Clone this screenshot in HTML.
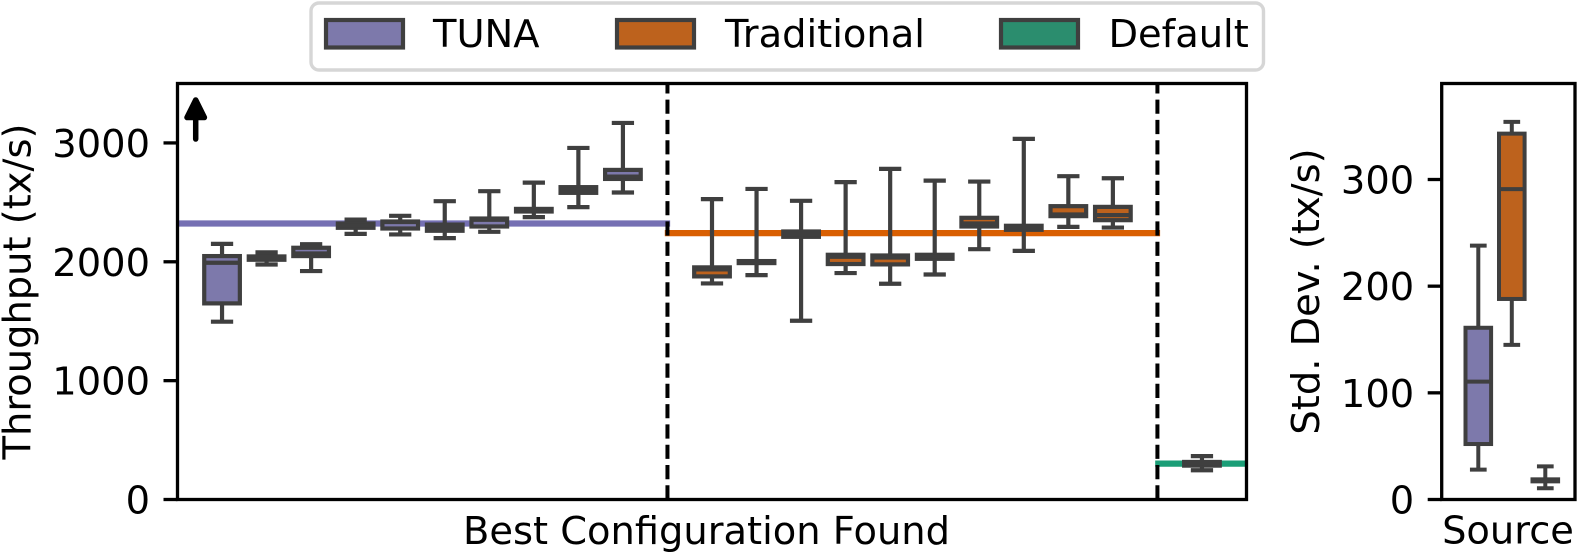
<!DOCTYPE html>
<html lang="en">
<head>
<meta charset="utf-8">
<title>Throughput and standard deviation of best configurations</title>
<style>
  html, body { margin: 0; padding: 0; background: #ffffff; }
  svg { display: block; }
  text { font-family: "DejaVu Sans", "Liberation Sans", sans-serif; font-size: 38.4px; fill: #000000; }
</style>
</head>
<body>
<svg id="chart" xmlns="http://www.w3.org/2000/svg" width="1578" height="553" viewBox="0 0 1578 553">
  <rect x="0" y="0" width="1578" height="553" fill="#ffffff"/>

  <g id="main-marks"></g>
  <g id="side-marks"></g>

  <path d="M195.7 139 V117.5 M195.7 100 L187 117.5 H204.4 Z" fill="#000000" stroke="#000000" stroke-width="5.5" stroke-linecap="round" stroke-linejoin="round"/>

  <text transform="translate(30.5 291.5) rotate(-90)" text-anchor="middle">Throughput (tx/s)</text>
  <text x="706.5" y="544" text-anchor="middle">Best Configuration Found</text>
  <text transform="translate(1319 291.5) rotate(-90)" text-anchor="middle">Std. Dev. (tx/s)</text>
  <text x="1508" y="543.5" text-anchor="middle">Source</text>

  <g>
    <rect x="311" y="3" width="952.5" height="67" rx="8" ry="8" fill="#ffffff" stroke="#d6d6d6" stroke-width="3.4"/>
    <g>
      <rect x="326" y="20" width="77" height="27.5" fill="#7d79ab" stroke="#3f3f3f" stroke-width="4.2"/>
      <text x="433" y="47">TUNA</text>
    </g>
    <g>
      <rect x="617" y="20" width="77" height="27.5" fill="#bd621d" stroke="#3f3f3f" stroke-width="4.2"/>
      <text x="725" y="47">Traditional</text>
    </g>
    <g>
      <rect x="1001" y="20" width="77" height="27.5" fill="#2b8d6e" stroke="#3f3f3f" stroke-width="4.2"/>
      <text x="1108.5" y="47">Default</text>
    </g>
  </g>
</svg>

<script>
// ---------- Main plot data (tx/s) ----------
const mainPositions = [0, 1, 2, 3, 4, 5, 6, 7, 8, 9, 11, 12, 13, 14, 15, 16, 17, 18, 19, 20, 22];
const mainSources = ['TUNA', 'TUNA', 'TUNA', 'TUNA', 'TUNA', 'TUNA', 'TUNA', 'TUNA', 'TUNA', 'TUNA',
  'Traditional', 'Traditional', 'Traditional', 'Traditional', 'Traditional', 'Traditional', 'Traditional', 'Traditional', 'Traditional', 'Traditional',
  'Default'];
const mainWhiskerHigh = [2151, 2079, 2148, 2355, 2387, 2510, 2594, 2666, 2958, 3168,
  2527, 2613, 2513, 2670, 2782, 2683, 2675, 3034, 2720, 2703, 365];
const mainQ3 = [2048, 2045, 2118, 2322, 2339, 2313, 2364, 2445, 2628, 2773,
  1953, 2006, 2255, 2059, 2053, 2059, 2370, 2303, 2468, 2462, 316];
const mainMedian = [1992, 2031, 2070, 2305, 2334, 2283, 2353, 2434, 2605, 2717,
  1936, 1997, 2233, 2042, 2036, 2042, 2322, 2294, 2398, 2393, 302];
const mainQ1 = [1650, 2017, 2048, 2286, 2280, 2261, 2297, 2423, 2580, 2697,
  1877, 1989, 2210, 1981, 1978, 2025, 2297, 2269, 2384, 2350, 285];
const mainWhiskerLow = [1496, 1977, 1922, 2235, 2230, 2199, 2252, 2376, 2460, 2583,
  1818, 1888, 1504, 1905, 1815, 1893, 2106, 2092, 2294, 2288, 246];
const mainTickLabels = [0, 1000, 2000, 3000];
const separators = [10, 21];
const referenceSources = ['TUNA', 'Traditional', 'Default'];
const referenceValues = [2322, 2241, 302];
const referenceStarts = [-1, 9.94, 20.95];
const referenceEnds = [10.06, 21.06, 23];

// ---------- Side plot data (tx/s) ----------
const sideSources = ['TUNA', 'Traditional', 'Default'];
const sideWhiskerHigh = [238, 354, 31];
const sideQ3 = [161, 343, 18.9];
const sideMedian = [110.5, 291, 18];
const sideQ1 = [52, 188, 17];
const sideWhiskerLow = [28, 145, 10.6];
const sideTickLabels = [0, 100, 200, 300];

// ---------- Palette ----------
const boxFill = { TUNA: '#7d79ab', Traditional: '#bd621d', Default: '#2b8d6e' };
const lineColor = { TUNA: '#7570b3', Traditional: '#d95f02', Default: '#1b9e77' };
const DARK = '#3f3f3f';
const NS = 'http://www.w3.org/2000/svg';

// ---------- Axis functions ----------
const mainLeft = 177.5, mainRight = 1246.5, plotTop = 83.5, plotBottom = 499.5;
const sideLeft = 1441.7, sideRight = 1575;
function mainX(v) { return mainLeft + (v + 1) * (mainRight - mainLeft) / 24; }
function mainY(v) { return plotBottom - v * (plotBottom - plotTop) / 3500; }
function sideX(i) { return 1478.3 + i * 33.5; }
function sideY(v) { return plotBottom - v * (plotBottom - plotTop) / 390; }
function slug(s) { return String(s).toLowerCase().replace(/[^a-z0-9]+/g, '-'); }

function make(parent, tag, attrs) {
  const el = document.createElementNS(NS, tag);
  Object.keys(attrs).forEach(function (k) { el.setAttribute(k, attrs[k]); });
  parent.appendChild(el);
  return el;
}

function drawBox(parent, name, cx, yScale, boxW, capW, hi, q3, med, q1, lo, fill, sw) {
  const g = make(parent, 'g', {});
  
  

  const upper = make(g, 'line', { x1: cx, x2: cx, y1: yScale(q3), y2: yScale(hi), stroke: DARK, 'stroke-width': sw });
  
  

  const lower = make(g, 'line', { x1: cx, x2: cx, y1: yScale(q1), y2: yScale(lo), stroke: DARK, 'stroke-width': sw });
  
  

  const capHi = make(g, 'line', { x1: cx - capW / 2, x2: cx + capW / 2, y1: yScale(hi), y2: yScale(hi), stroke: DARK, 'stroke-width': sw });
  
  

  const capLo = make(g, 'line', { x1: cx - capW / 2, x2: cx + capW / 2, y1: yScale(lo), y2: yScale(lo), stroke: DARK, 'stroke-width': sw });
  
  

  const body = make(g, 'rect', { x: cx - boxW / 2, y: yScale(q3), width: boxW, height: yScale(q1) - yScale(q3), fill: fill, stroke: DARK, 'stroke-width': sw });
  
  

  const medLine = make(g, 'line', { x1: cx - boxW / 2, x2: cx + boxW / 2, y1: yScale(med), y2: yScale(med), stroke: DARK, 'stroke-width': sw });
  
  
}

function drawFrame(parent, prefix, left, right, yScale, ticks) {
  const frame = make(parent, 'rect', { x: left, y: plotTop, width: right - left, height: plotBottom - plotTop, fill: 'none', stroke: '#000000', 'stroke-width': 3.3 });
  
  

  ticks.forEach(function (t) {
    const y = yScale(t);
    const mark = make(parent, 'line', { x1: left - 14, x2: left, y1: y, y2: y, stroke: '#000000', 'stroke-width': 3.3 });
    
    

    const label = make(parent, 'text', { x: left - 27.5, y: y + 14, 'text-anchor': 'end' });
    label.textContent = String(t);
    
    
  });
}

// ---------- Main plot ----------
const mainG = document.getElementById('main-marks');

referenceValues.forEach(function (v, i) {
  const ref = make(mainG, 'line', { x1: mainX(referenceStarts[i]), x2: mainX(referenceEnds[i]), y1: mainY(v), y2: mainY(v), stroke: lineColor[referenceSources[i]], 'stroke-width': 6.25 });
  
  
});

mainPositions.forEach(function (p, i) {
  const step = (mainRight - mainLeft) / 24;
  drawBox(mainG, 'box-' + slug(mainSources[i]) + '-' + p, mainX(p), mainY, step * 0.8, step * 0.5,
    mainWhiskerHigh[i], mainQ3[i], mainMedian[i], mainQ1[i], mainWhiskerLow[i], boxFill[mainSources[i]], 4.2);
});

separators.forEach(function (s, i) {
  const sep = make(mainG, 'line', { x1: mainX(s), x2: mainX(s), y1: plotBottom, y2: plotTop, stroke: '#000000', 'stroke-width': 4, 'stroke-dasharray': '14.2 6.1' });
  
  
});

drawFrame(mainG, 'main', mainLeft, mainRight, mainY, mainTickLabels);

// ---------- Side plot ----------
const sideG = document.getElementById('side-marks');

sideSources.forEach(function (s, i) {
  drawBox(sideG, 'side-box-' + slug(s), sideX(i), sideY, 25.6, 16.7,
    sideWhiskerHigh[i], sideQ3[i], sideMedian[i], sideQ1[i], sideWhiskerLow[i], boxFill[s], 4);
});

drawFrame(sideG, 'side', sideLeft, sideRight, sideY, sideTickLabels);
</script>
</body>
</html>
